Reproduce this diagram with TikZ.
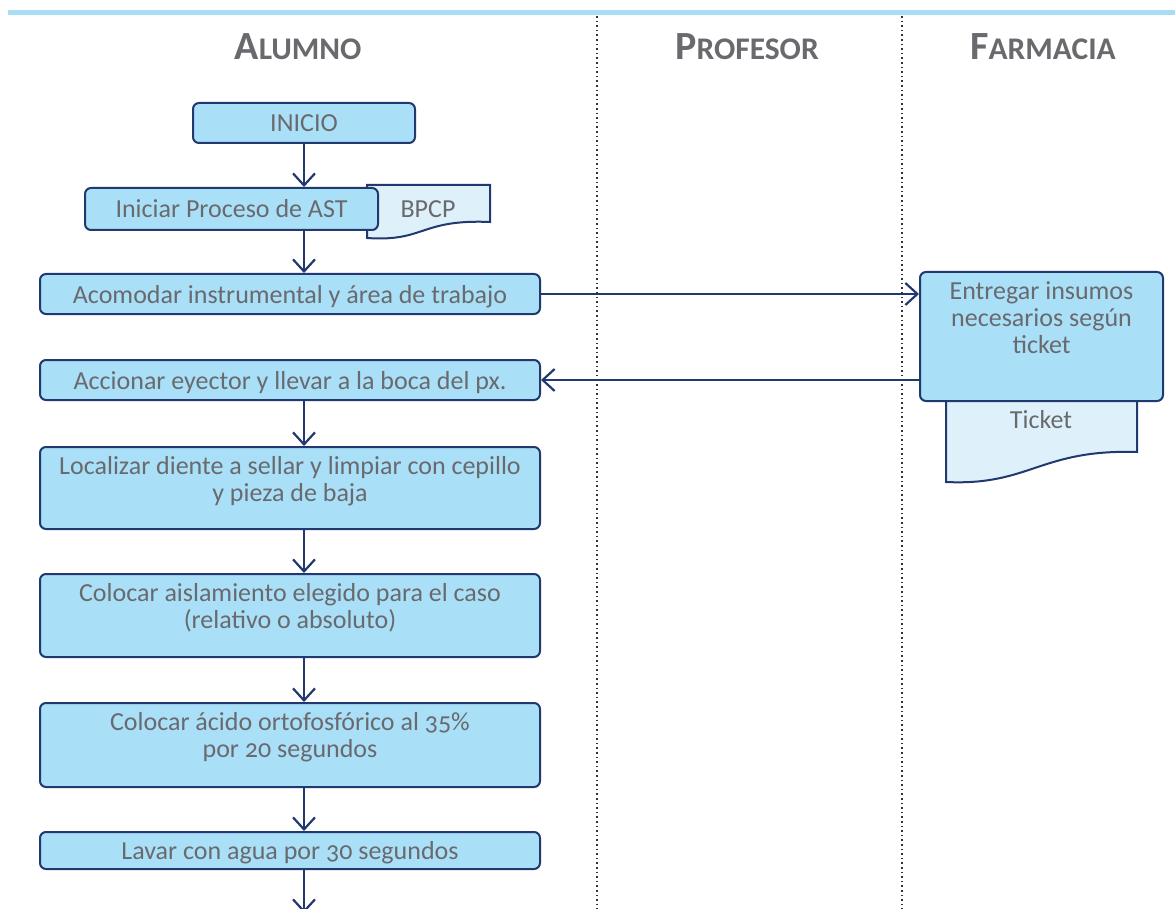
\documentclass[tikz,border=0pt]{standalone}
\usepackage{fontspec}
\setmainfont[Numbers=OldStyle]{Carlito}
\usetikzlibrary{arrows.meta,positioning}
\definecolor{azulosc}{RGB}{33,57,110}
\definecolor{celeste}{RGB}{170,223,248}
\definecolor{celestecl}{RGB}{222,241,251}
\definecolor{barra}{RGB}{168,221,245}
\definecolor{gristxt}{RGB}{105,106,110}
\tikzset{
  paso/.style={draw=azulosc, fill=celeste, line width=2pt, rounded corners=6pt,
               text=gristxt, font=\fontsize{26}{27}\selectfont, align=flush center, inner sep=0pt},
  linea/.style={text height=24pt, text depth=6pt},
  alto/.style={anchor=north, text width=496pt, text height=27pt, text depth=#1},
  doc/.style={draw=azulosc, fill=celestecl, line width=2pt},
  doctxt/.style={text=gristxt, font=\fontsize{26}{27}\selectfont},
  flecha/.style={azulosc, line width=2.2pt, -{Straight Barb[length=12pt, width=22pt]}},
  carril/.style={black!80, line width=1.6pt, dash pattern=on 1.6pt off 3pt},
  encab/.style={text=gristxt, font=\bfseries},
}
\newcommand{\versal}[2]{{\fontsize{40}{40}\selectfont #1}{\fontsize{31.5}{31.5}\selectfont #2}}

\begin{document}
\begin{tikzpicture}[x=1pt, y=-1pt]
  \useasboundingbox (0,0) rectangle (1175,909);
  % carriles
  \draw[barra, line width=5pt] (8,13) -- (1175,13);
  \draw[carril] (597,16) -- (597,909);
  \draw[carril] (902,16) -- (902,909);
  \node[encab] (hal) at (298,47) {\versal{A}{LUMNO}};
  \node[encab] (hpr) at (747,47) {\versal{P}{ROFESOR}};
  \node[encab] (hfa) at (1043,47) {\versal{F}{ARMACIA}};
  \coordinate (eje) at (304,0);

  % documentos (detras de las cajas)
  \draw[doc] (367,185) -- (490,185) -- (490,222)
    .. controls (420,219) and (425,242) .. (367,238) -- cycle;
  \node[doctxt] (bpcp) at (428,209) {BPCP};
  \draw[doc] (946,390) -- (1137,390) -- (1137,452)
    .. controls (1040,449) and (1030,486) .. (946,482) -- cycle;
  \node[doctxt] (ticket) at (1041,420) {Ticket};

  % alumno
  \node[paso, linea, minimum width=222pt, minimum height=40pt] (inicio) at (304,123) {INICIO};
  \node[paso, linea, minimum width=293pt, minimum height=42pt] (ast) at (231.5,209) {Iniciar Proceso de AST};
  \node[paso, linea, minimum width=500pt, minimum height=40pt] (acomodar) at (290,294) {Acomodar instrumental y área de trabajo};
  \node[paso, linea, minimum width=500pt, minimum height=40pt] (accionar) at (290,380) {Accionar eyector y llevar a la boca del px.};
  \node[paso, alto=55pt, minimum width=500pt] (localizar) at (290,446)
    {Localizar diente a sellar y limpiar con cepillo\\ y pieza de baja};
  \node[paso, alto=56pt, minimum width=500pt] (aislar) at (290,573)
    {Colocar aislamiento elegido para el caso\\ (relativo o absoluto)};
  \node[paso, alto=57pt, minimum width=500pt] (acido) at (290,702)
    {Colocar ácido ortofosfórico al 35\%\\ por 20 segundos};
  \node[paso, linea, minimum width=500pt, minimum height=37pt] (lavar) at (290,850.5) {Lavar con agua por 30 segundos};
  \coordinate (fin) at (304,913);

  % farmacia
  \node[paso, alto=101pt, text width=235pt, minimum width=243pt, text height=28pt] (entregar) at (1041.5,271)
    {Entregar insumos\\ necesarios según\\ ticket};

  % flujo
  \draw[flecha] (inicio.south) -- (ast.north -| eje);
  \draw[flecha] (ast.south -| eje) -- (acomodar.north -| eje);
  \draw[flecha] (acomodar.east) -- (acomodar.east -| entregar.west);
  \draw[flecha] (entregar.west |- accionar.east) -- (accionar.east);
  \draw[flecha] (accionar.south -| eje) -- (localizar.north -| eje);
  \draw[flecha] (localizar.south -| eje) -- (aislar.north -| eje);
  \draw[flecha] (aislar.south -| eje) -- (acido.north -| eje);
  \draw[flecha] (acido.south -| eje) -- (lavar.north -| eje);
  \draw[flecha] (lavar.south -| eje) -- (fin);
\end{tikzpicture}
\end{document}
